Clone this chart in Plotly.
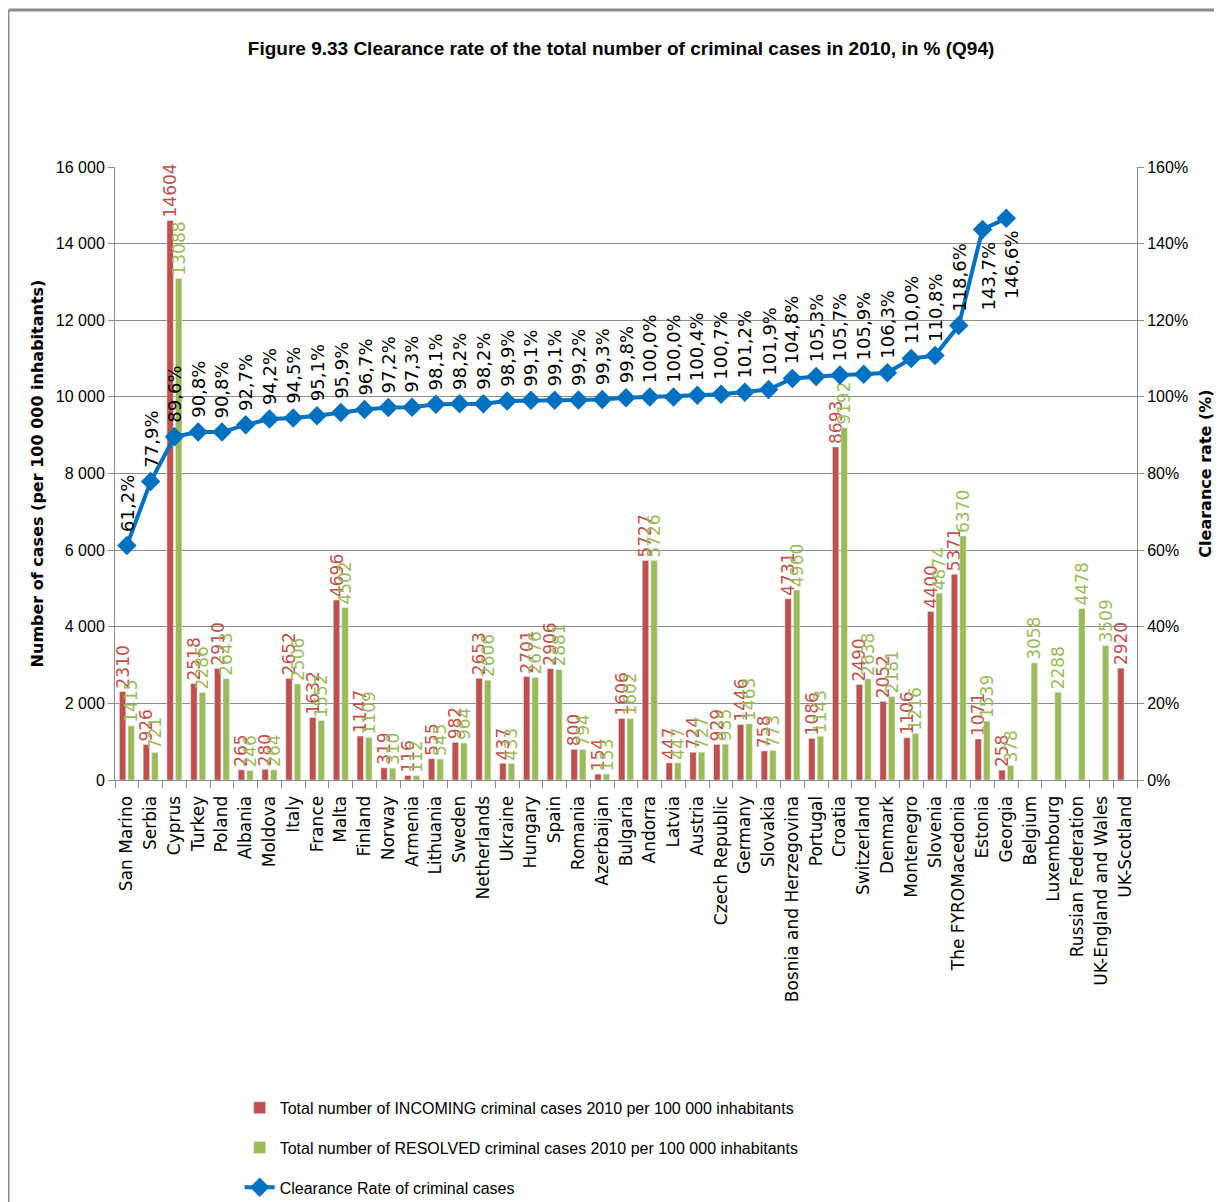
import plotly.graph_objects as go

# Clearance rate of criminal cases 2010 (Q94)
countries = ["San Marino", "Serbia", "Cyprus", "Turkey", "Poland", "Albania", "Moldova", "Italy",
             "France", "Malta", "Finland", "Norway", "Armenia", "Lithuania", "Sweden", "Netherlands",
             "Ukraine", "Hungary", "Spain", "Romania", "Azerbaijan", "Bulgaria", "Andorra", "Latvia",
             "Austria", "Czech Republic", "Germany", "Slovakia", "Bosnia and Herzegovina", "Portugal",
             "Croatia", "Switzerland", "Denmark", "Montenegro", "Slovenia", "The FYROMacedonia",
             "Estonia", "Georgia", "Belgium", "Luxembourg", "Russian Federation",
             "UK-England and Wales", "UK-Scotland"]

incoming = [2310, 926, 14604, 2518, 2910, 265, 280, 2652, 1632, 4696, 1147, 319, 116, 555, 982, 2653,
            437, 2701, 2906, 800, 154, 1606, 5727, 447, 724, 929, 1446, 758, 4731, 1086, 8693, 2490,
            2052, 1106, 4400, 5371, 1071, 258, None, None, None, None, 2920]

resolved = [1415, 721, 13088, 2286, 2643, 246, 264, 2506, 1552, 4502, 1109, 310, 112, 545, 964, 2606,
            433, 2676, 2881, 794, 153, 1602, 5726, 447, 727, 935, 1463, 773, 4960, 1143, 9192, 2638,
            2181, 1216, 4874, 6370, 1539, 378, 3058, 2288, 4478, 3509, None]

clearance = [61.2, 77.9, 89.6, 90.8, 90.8, 92.7, 94.2, 94.5, 95.1, 95.9, 96.7, 97.2, 97.3, 98.1, 98.2,
             98.2, 98.9, 99.1, 99.1, 99.2, 99.3, 99.8, 100.0, 100.0, 100.4, 100.7, 101.2, 101.9, 104.8,
             105.3, 105.7, 105.9, 106.3, 110.0, 110.8, 118.6, 143.7, 146.6, None, None, None, None, None]

left_ticks = [0, 2000, 4000, 6000, 8000, 10000, 12000, 14000, 16000]
left_ticktext = ["0", "2 000", "4 000", "6 000", "8 000", "10 000", "12 000", "14 000", "16 000"]

RED = "#C0504D"
GREEN = "#9BBB59"
BLUE = "#0070C0"
GRID = "#8C8C8C"
SANS = "Liberation Sans, Arial"

def lbl(v):
    return "" if v is None else str(v)

fig = go.Figure()

fig.add_trace(go.Bar(
    x=countries, y=incoming, name="Total number of INCOMING criminal cases 2010 per 100 000 inhabitants",
    marker_color=RED, text=[lbl(v) for v in incoming], textposition="outside", textangle=-90,
    textfont=dict(family="DejaVu Sans", size=17, color=RED), constraintext="none",
    cliponaxis=False, legendgroup="a",
))
fig.add_trace(go.Bar(
    x=countries, y=resolved, name="Total number of RESOLVED criminal cases 2010 per 100 000 inhabitants",
    marker_color=GREEN, text=[lbl(v) for v in resolved], textposition="outside", textangle=-90,
    textfont=dict(family="DejaVu Sans", size=17, color=GREEN), constraintext="none",
    cliponaxis=False, legendgroup="b",
))
fig.add_trace(go.Scatter(
    x=countries, y=clearance, yaxis="y2", name="Clearance Rate of criminal cases",
    mode="lines+markers", line=dict(color=BLUE, width=4),
    marker=dict(symbol="diamond", size=15, color=BLUE), legendgroup="c", cliponaxis=False,
))

# rotated percentage labels for the line
annos = []
for c, v in zip(countries, clearance):
    if v is None:
        continue
    below = v > 140
    annos.append(dict(
        x=c, y=v, xref="x", yref="y2", text=f"{v:.1f}".replace(".", ",") + "%",
        textangle=-90, showarrow=False, font=dict(family="DejaVu Sans", size=18, color="#000000"),
        yanchor="top" if below else "bottom", yshift=-10 if below else 12, xshift=6 if below else 0,
    ))
fig.update_layout(annotations=annos)

# chart frame (top and left edges)
fig.add_shape(type="line", xref="paper", yref="paper", x0=-0.104, x1=1.1, y0=1.256, y1=1.256,
              line=dict(color="#8A8A8A", width=3))
fig.add_shape(type="line", xref="paper", yref="paper", x0=-0.104, x1=-0.104, y0=1.256, y1=-0.75,
              line=dict(color="#8A8A8A", width=1.5))

fig.update_layout(
    width=1214, height=1230,
    margin=dict(l=107, r=85, t=159, b=458),
    paper_bgcolor="white", plot_bgcolor="white",
    title=dict(text="<b>Figure 9.33 Clearance rate of the total number of criminal cases in 2010, in % (Q94)</b>",
               x=0.505, xanchor="center", y=1 - 40 / 1230, yanchor="middle",
               font=dict(family=SANS, size=19, color="#000")),
    barmode="group", bargap=0.28, bargroupgap=0.25,
    xaxis=dict(
        tickangle=-90, tickfont=dict(family="DejaVu Sans", size=17, color="#000"),
        showline=True, linecolor=GRID, ticks="outside", ticklen=7, tickcolor=GRID,
        ticklabelstandoff=8,
        tickson="boundaries", showgrid=False, range=[-0.5, len(countries) - 0.5],
    ),
    yaxis=dict(
        range=[0, 16000], tickvals=left_ticks, ticktext=left_ticktext,
        tickfont=dict(family=SANS, size=16, color="#000"),
        showline=True, linecolor=GRID, ticks="outside", ticklen=6, tickcolor=GRID,
        showgrid=True, gridcolor=GRID, gridwidth=1, zeroline=False,
        title=dict(text="<b>Number of cases (per 100 000 inhabitants)</b>", standoff=8,
                   font=dict(family="DejaVu Sans", size=16, color="#000")),
    ),
    yaxis2=dict(
        range=[0, 160], dtick=20, ticksuffix="%", overlaying="y", side="right",
        tickfont=dict(family=SANS, size=16, color="#000"),
        showline=True, linecolor=GRID, ticks="outside", ticklen=6, tickcolor=GRID,
        showgrid=False, zeroline=False,
        title=dict(text="<b>Clearance rate (%)</b>", standoff=12,
                   font=dict(family="DejaVu Sans", size=16, color="#000")),
    ),
    legend=dict(
        x=0.122, y=-0.507, xanchor="left", yanchor="top", orientation="v",
        traceorder="grouped", tracegroupgap=16,
        font=dict(family=SANS, size=16, color="#000"),
    ),
    showlegend=True,
)

fig.write_html("out.html")
